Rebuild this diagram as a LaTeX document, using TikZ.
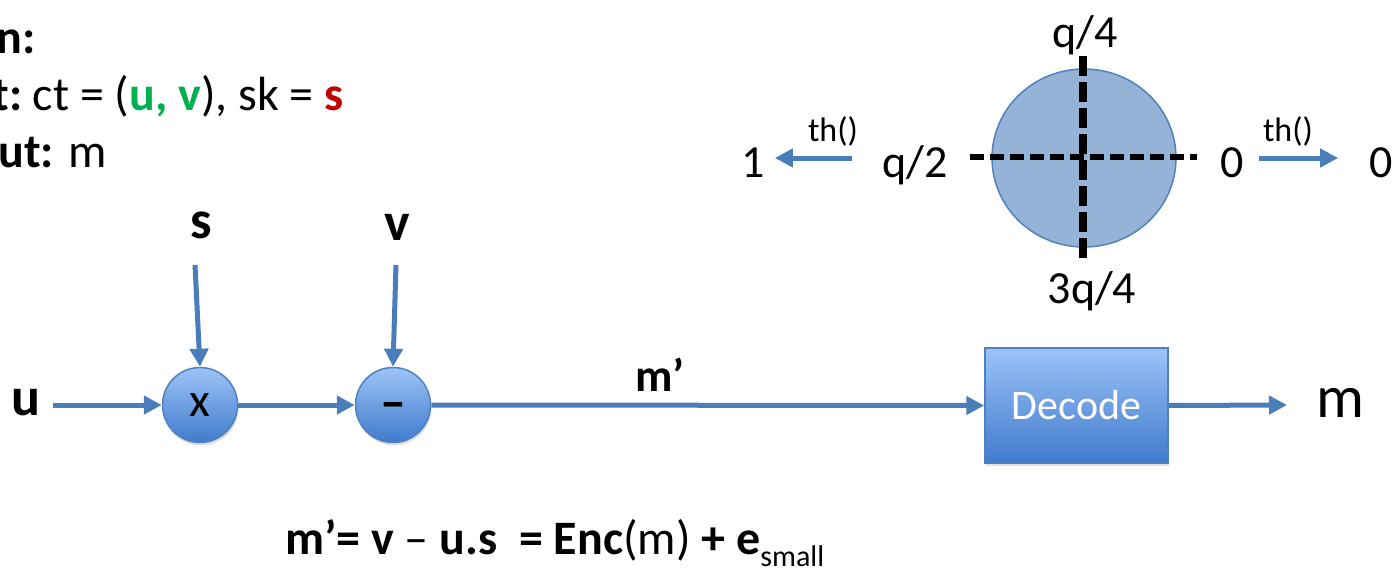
\documentclass[tikz,border=0pt]{standalone}
\usepackage{fontspec}
\setmainfont{Carlito}
\usetikzlibrary{arrows.meta,shapes.geometric,shadows}
\definecolor{ablue}{HTML}{4A7EBB}
\definecolor{bord}{HTML}{4F81BD}
\definecolor{gtop}{HTML}{9DC3F8}
\definecolor{gbot}{HTML}{3F7BCC}
\definecolor{diskc}{HTML}{95B3D7}
\definecolor{grn}{HTML}{00B050}
\definecolor{rd}{HTML}{C00000}
\newcommand\fsz[1]{\fontsize{#1}{#1}\selectfont}
\begin{document}
\begin{tikzpicture}[x=1pt,y=-1pt,
  arr/.style={draw=ablue,line width=5pt,-{Triangle[length=18pt,width=18pt]}},
  opnode/.style={circle,draw=bord,line width=1.5pt,top color=gtop,bottom color=gbot,
     minimum size=75pt,inner sep=0pt,
     drop shadow={shadow xshift=1pt,shadow yshift=-3pt,opacity=0.25}},
  decbox/.style={rectangle,draw=bord,line width=1.5pt,top color=gtop,bottom color=gbot,
     minimum width=183pt,minimum height=115pt,inner sep=0pt,text=white,font=\fsz{42},
     drop shadow={shadow xshift=1pt,shadow yshift=-3pt,opacity=0.25}},
  lbl/.style={inner sep=0pt,font=\fsz{46}},
  hdr/.style={inner sep=0pt,font=\fsz{48},anchor=base east},
  big/.style={inner sep=0pt,font=\fsz{54}\bfseries,anchor=base},
  small/.style={inner sep=0pt,font=\fsz{34},anchor=base},
  dash h/.style={line width=6pt,dash pattern=on 14pt off 6pt},
  dash v/.style={line width=8pt,dash pattern=on 20pt off 6pt}
]
\useasboundingbox (0,0) rectangle (1394,571);

% header text
\node[hdr] (l1) at (36,53) {\bfseries n:};
\node[hdr] (l2) at (344,110) {{\bfseries t:}\hspace{10pt}ct = ({\bfseries\color{grn}u, v}), sk = {\bfseries\color{rd}s}};
\node[hdr] (l3) at (107,167) {{\bfseries ut:} m};

% inputs
\node[big] (u) at (26,415) {u};
\node[big] (s) at (201,238) {s};
\node[big] (v) at (397,240) {v};
\coordinate (uend) at (53,405);
\coordinate (stop) at (195,265);
\coordinate (vtop) at (396,265);

% operators
\node[opnode,font=\fsz{48}] (mul) at (200,405) {x};
\node[opnode,font=\fsz{52}\bfseries,text height=28pt,text depth=0pt] (sub) at (393,405) {–};
\node[decbox] (dec) at (1076.5,405.5) {Decode};
\node[inner sep=0pt,font=\fsz{60},anchor=base] (m) at (1340,417) {m};
\coordinate (mend) at (1287,405);

\draw[arr] (uend) -- (mul.west);
\draw[arr] (stop) -- (mul.north);
\draw[arr] (vtop) -- (sub.north);
\draw[arr] (mul.east) -- (sub.west);
\draw[arr] (sub.east) -- (dec.west);
\draw[arr] (dec.east) -- (mend);
\node[lbl,anchor=base] (mp) at (660,391) {\bfseries m’};

% formula
\node[lbl,anchor=base west,font=\fsz{48}] (eq) at (285,554)
  {{\bfseries m’= v} – {\bfseries u.s \ = Enc}(m) {\bfseries + e}\raisebox{-0.25em}{\fsz{30}small}};

% threshold disk
\node[ellipse,draw=bord,fill=diskc,line width=1.5pt,minimum width=184pt,minimum height=178pt,inner sep=0pt] (disk) at (1084,158) {};
\coordinate (hl) at (970,157);
\coordinate (hr) at (1197,157);
\coordinate (vt) at (1083,56);
\coordinate (vb) at (1083,260);
\draw[dash h] (hl) -- (hr);
\draw[dash v] (vt) -- (vb);

\node[lbl,anchor=base] (q4) at (1085,47) {q/4};
\node[lbl,anchor=base] (q34) at (1092,303) {3q/4};
\node[lbl,anchor=base] (q2) at (915,177) {q/2};
\node[lbl,anchor=base] (z) at (1232,177) {0};
\node[lbl,anchor=base] (one) at (753,177) {1};
\node[lbl,anchor=base] (zb) at (1381,177) {0};
\node[small] (th1) at (833,141) {th()};
\node[small] (th2) at (1288,141) {th()};
\draw[arr,shorten <=30pt,shorten >=10pt] (q2.west |- disk.center) -- (one.east |- disk.center);
\draw[arr,shorten <=15pt,shorten >=31pt] (z.east |- disk.center) -- (zb.west |- disk.center);
\end{tikzpicture}
\end{document}
